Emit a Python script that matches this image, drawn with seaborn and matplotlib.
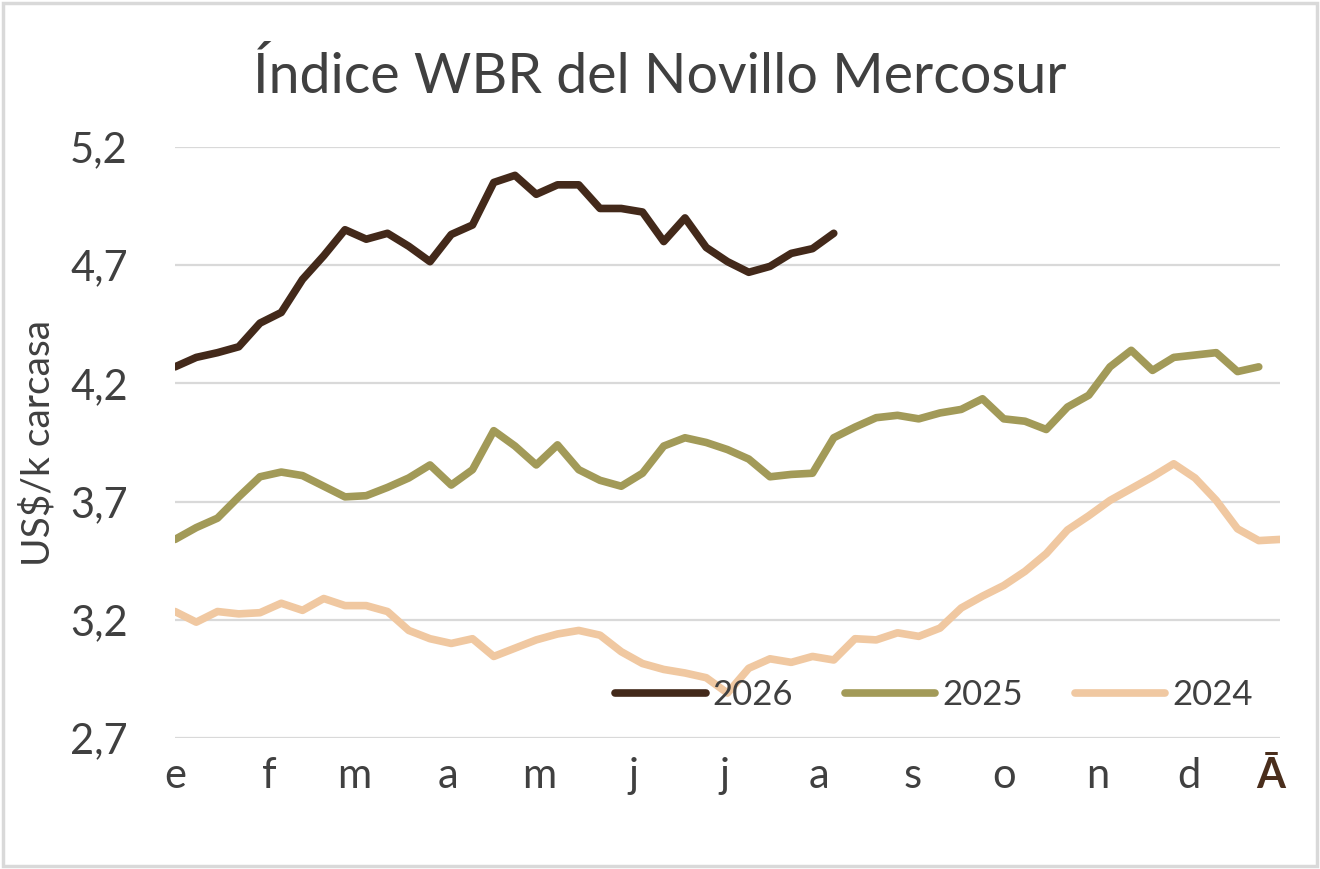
import numpy as np
import pandas as pd
import seaborn as sns
import matplotlib.pyplot as plt
from matplotlib.patches import Rectangle

# weekly values, US$/kg carcass
vals_2026 = [4.27, 4.31, 4.33, 4.355, 4.455, 4.50, 4.64, 4.74, 4.85, 4.81, 4.835,
             4.78, 4.715, 4.83, 4.87, 5.05, 5.08, 5.00, 5.04, 5.04, 4.94, 4.94,
             4.925, 4.80, 4.90, 4.775, 4.715, 4.67, 4.695, 4.75, 4.77, 4.835]
vals_2025 = [3.54, 3.59, 3.63, 3.72, 3.805, 3.825, 3.81, 3.765, 3.72, 3.725, 3.76,
             3.80, 3.855, 3.77, 3.835, 4.00, 3.935, 3.855, 3.94, 3.835, 3.79, 3.765,
             3.82, 3.935, 3.97, 3.95, 3.92, 3.88, 3.805, 3.815, 3.82, 3.97, 4.015,
             4.055, 4.065, 4.05, 4.075, 4.09, 4.135, 4.05, 4.04, 4.005, 4.10, 4.15,
             4.27, 4.34, 4.255, 4.31, 4.32, 4.33, 4.25, 4.27]
vals_2024 = [3.235, 3.19, 3.235, 3.225, 3.23, 3.27, 3.24, 3.29, 3.26, 3.26, 3.235,
             3.155, 3.12, 3.10, 3.12, 3.045, 3.08, 3.115, 3.14, 3.155, 3.135, 3.065,
             3.015, 2.99, 2.975, 2.955, 2.89, 2.995, 3.035, 3.02, 3.045, 3.03, 3.12,
             3.115, 3.145, 3.13, 3.165, 3.25, 3.30, 3.345, 3.405, 3.48, 3.58, 3.64,
             3.705, 3.755, 3.805, 3.86, 3.80, 3.705, 3.585, 3.535, 3.54]

series = {"2026": vals_2026, "2025": vals_2025, "2024": vals_2024}
colors = {"2026": "#43291A", "2025": "#A29A58", "2024": "#F0C8A1"}

month_labels = ["e", "f", "m", "a", "m", "j", "j", "a", "s", "o", "n", "d", "Ā"]
month_start_day = [0, 31, 59, 90, 120, 151, 181, 212, 243, 273, 304, 334, 361]
y_ticks = [2.7, 3.2, 3.7, 4.2, 4.7, 5.2]

rows = []
for year, vals in series.items():
    for week, v in enumerate(vals):
        rows.append({"week": week, "valor": v, "año": year})
df = pd.DataFrame(rows)

sns.set_style("white")
plt.rcParams["font.family"] = ["Lato", "DejaVu Sans"]
text_col = "#404040"

fig = plt.figure(figsize=(13.2, 8.69), dpi=100)
ax = fig.add_axes([175 / 1320, 1 - 738 / 869, 1105 / 1320, 591 / 869])

sns.lineplot(data=df, x="week", y="valor", hue="año", hue_order=["2026", "2025", "2024"],
             palette=colors, linewidth=5.5, ax=ax, legend=True)

ax.set_xlim(0, 52)
ax.set_ylim(2.7, 5.2)
ax.set_yticks(y_ticks)
ax.set_yticklabels([f"{t:.1f}".replace(".", ",") for t in y_ticks], fontsize=30, color=text_col)
ax.set_xticks([d / 7 for d in month_start_day])
ax.set_xticklabels(month_labels, fontsize=30, color=text_col)
last = ax.get_xticklabels()[-1]
last.set_fontweight("bold")
last.set_color("#4A2E1C")
ax.tick_params(axis="y", length=0, pad=34)
ax.tick_params(axis="x", length=0, pad=14)
ax.yaxis.grid(True, color="#D9D9D9", linewidth=1.6)
ax.set_axisbelow(True)
for s in ax.spines.values():
    s.set_visible(False)

ax.set_xlabel("")
ax.set_ylabel("US$/k carcasa", fontsize=28, color=text_col, labelpad=10)

fig.text(0.5, 1 - 77 / 869, "Índice WBR del Novillo Mercosur", ha="center", va="center",
         fontsize=40, color=text_col)

leg = ax.legend(loc="center", bbox_to_anchor=(934 / 1320, 1 - 695 / 869),
                bbox_transform=fig.transFigure, ncol=3, frameon=False, fontsize=25,
                handlelength=2.6, handletextpad=0.2, columnspacing=1.5)
for t in leg.get_texts():
    t.set_color(text_col)
for h in leg.get_lines():
    h.set_linewidth(5.5)
    h.set_solid_capstyle("round")

fig.patches.append(Rectangle((0.002, 0.003), 0.996, 0.994, transform=fig.transFigure,
                             fill=False, edgecolor="#D9D9D9", linewidth=2.5))

fig.savefig("out.png", dpi=100)
